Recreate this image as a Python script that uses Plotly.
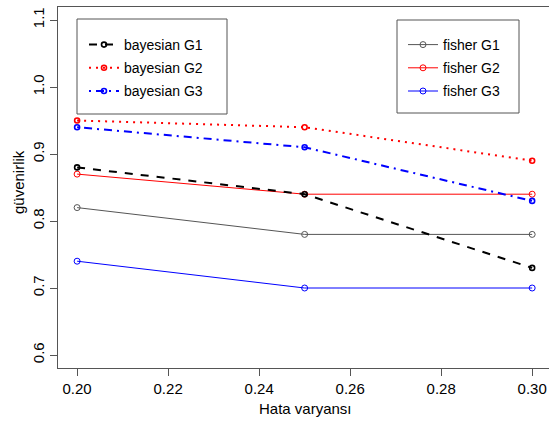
import plotly.graph_objects as go

x_vals = [0.20, 0.25, 0.30]
bayes_g1 = [0.88, 0.84, 0.73]
bayes_g2 = [0.95, 0.94, 0.89]
bayes_g3 = [0.94, 0.91, 0.83]
fisher_g1 = [0.82, 0.78, 0.78]
fisher_g2 = [0.87, 0.84, 0.84]
fisher_g3 = [0.74, 0.70, 0.70]
x_ticks = [0.20, 0.22, 0.24, 0.26, 0.28, 0.30]
x_tick_text = ["0.20", "0.22", "0.24", "0.26", "0.28", "0.30"]
y_ticks = [0.6, 0.7, 0.8, 0.9, 1.0, 1.1]
y_tick_text = ["0.6", "0.7", "0.8", "0.9", "1.0", "1.1"]

W, H = 549, 433
ML, MR, MT, MB = 58, 0, 7, 65
PW, PH = W - ML - MR, H - MT - MB
FONT = "Liberation Sans, Arial, sans-serif"

fig = go.Figure()

def add(name, y, color, dash, width, msize, mline, legend, group):
    fig.add_trace(go.Scatter(
        x=x_vals, y=y, name=name, mode="lines+markers",
        line=dict(color=color, width=width, dash=dash),
        marker=dict(symbol="circle-open", size=msize, color=color, line=dict(width=mline, color=color)),
        legend=legend, legendgroup=group,
    ))

add("fisher G1", fisher_g1, "#555555", "solid", 1, 6, 1, "legend2", "f1")
add("fisher G2", fisher_g2, "#ff0000", "solid", 1, 6, 1, "legend2", "f2")
add("fisher G3", fisher_g3, "#0000ff", "solid", 1, 6, 1, "legend2", "f3")
add("bayesian G1", bayes_g1, "#000000", "8px,8px", 2, 5, 1.6, "legend", "b1")
add("bayesian G2", bayes_g2, "#ff0000", "2px,5px", 2, 5, 1.6, "legend", "b2")
add("bayesian G3", bayes_g3, "#0000ff", "2px,5px,8px,5px", 2, 5, 1.6, "legend", "b3")

def px2paper(x0, y0, x1, y1):
    return dict(x0=(x0 - ML) / PW, x1=(x1 - ML) / PW,
                y0=1 - (y0 - MT) / PH, y1=1 - (y1 - MT) / PH)

shapes = [
    dict(type="rect", xref="paper", yref="paper", line=dict(color="#555555", width=1), **px2paper(77, 19, 227, 114)),
    dict(type="rect", xref="paper", yref="paper", line=dict(color="#555555", width=1), **px2paper(397, 20, 519, 113)),
]

leg_common = dict(
    xanchor="left", yanchor="top",
    bgcolor="rgba(0,0,0,0)", borderwidth=0,
    font=dict(family=FONT, size=14, color="#000000"),
    traceorder="grouped", tracegroupgap=2,
)

fig.update_layout(
    width=W, height=H,
    margin=dict(l=ML, r=MR, t=MT, b=MB, autoexpand=False),
    paper_bgcolor="white", plot_bgcolor="white",
    showlegend=True,
    legend=dict(x=(84 - ML) / PW, y=1 - (29 - MT) / PH, **leg_common),
    legend2=dict(x=(403 - ML) / PW, y=1 - (29 - MT) / PH, **leg_common),
    shapes=shapes,
    xaxis=dict(
        range=[0.1958, 0.3037], tickvals=x_ticks, ticktext=x_tick_text,
        showgrid=False, zeroline=False, showline=True, linecolor="#555555", linewidth=1,
        mirror=True, ticks="outside", ticklen=7, tickcolor="#555555",
        tickfont=dict(family=FONT, size=15, color="#000000"), automargin=False,
    ),
    yaxis=dict(
        range=[0.5806, 1.1194], tickvals=y_ticks, ticktext=y_tick_text, tickangle=-90,
        showgrid=False, zeroline=False, showline=True, linecolor="#555555", linewidth=1,
        mirror=False, ticks="outside", ticklen=7, tickcolor="#555555",
        tickfont=dict(family=FONT, size=15, color="#000000"), automargin=False,
    ),
    annotations=[
        dict(text="Hata varyansı", xref="paper", yref="paper", x=(305 - ML) / PW, y=1 - (408 - MT) / PH,
             showarrow=False, font=dict(family=FONT, size=15, color="#000000"), xanchor="center", yanchor="middle"),
        dict(text="güvenirlik", xref="paper", yref="paper", x=(18 - ML) / PW, y=1 - (182 - MT) / PH,
             showarrow=False, textangle=-90, font=dict(family=FONT, size=15, color="#000000"),
             xanchor="center", yanchor="middle"),
    ],
)

fig.write_html(
    "out.html",
    config={"displayModeBar": False},
    post_script="document.body.style.margin='0';document.body.style.overflow='hidden';",
)
